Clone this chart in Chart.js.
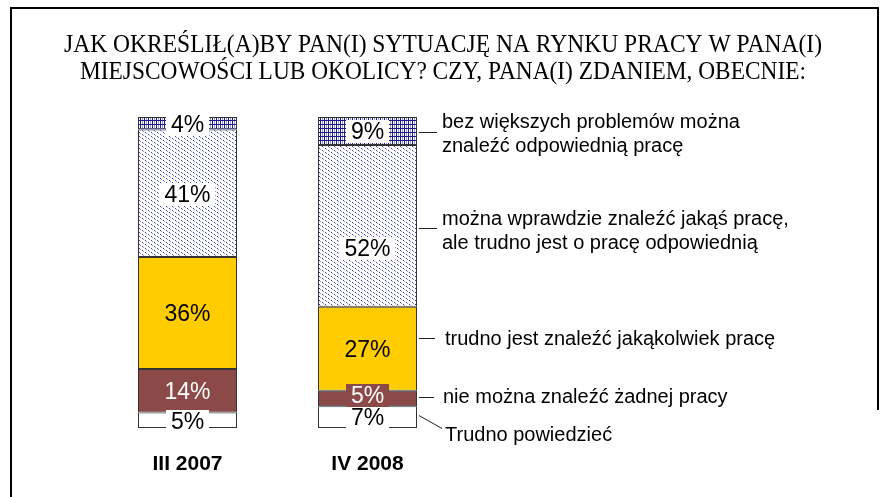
<!DOCTYPE html>
<html>
<head>
<meta charset="utf-8">
<script src="https://cdn.jsdelivr.net/npm/chart.js@4/dist/chart.umd.min.js"></script>
<style>
  html, body { margin: 0; padding: 0; background: #fff; }
  canvas { display: block; }
</style>
</head>
<body>
<canvas id="chart" width="886" height="497" style="width:886px;height:497px;"></canvas>
<script>
'use strict';

// --- data ---
const categories = ['III 2007', 'IV 2008'];
const trudnoPowiedziec = [5, 7];
const nieMozna        = [14, 5];
const trudnoJest      = [36, 27];
const moznaWprawdzie  = [41, 52];
const bezProblemow    = [4, 9];

const titleLines = [
  'JAK OKREŚLIŁ(A)BY PAN(I) SYTUACJĘ NA RYNKU PRACY W PANA(I)',
  'MIEJSCOWOŚCI LUB OKOLICY? CZY, PANA(I) ZDANIEM, OBECNIE:'
];
const legendTrudnoPowiedziec = ['Trudno powiedzieć'];
const legendNieMozna        = ['nie można znaleźć żadnej pracy'];
const legendTrudnoJest      = ['trudno jest znaleźć jakąkolwiek pracę'];
const legendMoznaWprawdzie  = ['można wprawdzie znaleźć jakąś pracę,', 'ale trudno jest o pracę odpowiednią'];
const legendBezProblemow    = ['bez większych problemów można', 'znaleźć odpowiednią pracę'];

// --- patterns ---
function makePattern(w, h, draw) {
  const c = document.createElement('canvas');
  c.width = w; c.height = h;
  const g = c.getContext('2d');
  g.fillStyle = '#fff';
  g.fillRect(0, 0, w, h);
  draw(g);
  return g.createPattern(c, 'repeat');
}

const gridPattern = makePattern(4, 4, g => {
  g.fillStyle = '#9a9ad0';
  g.fillRect(2, 0, 1, 4);
  g.fillStyle = '#1c1c8a';
  g.fillRect(0, 0, 1, 4);
  g.fillRect(0, 0, 4, 1);
});

const dotPattern = makePattern(6, 4, g => {
  g.fillStyle = '#3a3aaa';
  g.fillRect(1, 0, 1, 1);
  g.fillRect(4, 2, 1, 1);
  g.fillStyle = '#9a9ad8';
  g.fillRect(2, 1, 1, 1);
  g.fillRect(5, 3, 1, 1);
});

const segFill   = ['#ffffff', '#8b4a47', '#ffcc00', dotPattern, gridPattern];
const boxFill   = ['#ffffff', '#8b4a47', '#ffcc00', '#ffffff', '#ffffff'];
const textColor = ['#000', '#fff', '#000', '#000', '#000'];
// manually moved labels (dataset,index -> px shift), as in the original
const labelShift = { '3,1': 22 };

// legend annotations: text lines + leader line (from bar edge to text)
const legendItems = [
  { lines: legendBezProblemow,     textX: 442, textY: 122, lead: [[419, 132], [437, 132]] },
  { lines: legendMoznaWprawdzie,   textX: 442, textY: 219, lead: [[419, 228], [437, 228]] },
  { lines: legendTrudnoJest,       textX: 445, textY: 339, lead: [[419, 338], [435, 338]] },
  { lines: legendNieMozna,         textX: 443, textY: 397, lead: [[419, 397], [434, 397]] },
  { lines: legendTrudnoPowiedziec, textX: 445, textY: 435, lead: [[419, 415], [442, 428]] }
];

const decor = {
  id: 'decor',
  beforeDraw(chart) {
    const ctx = chart.ctx;
    ctx.save();
    ctx.fillStyle = '#fff';
    ctx.fillRect(0, 0, chart.width, chart.height);
    ctx.restore();
  },
  afterDatasetsDraw(chart) {
    const ctx = chart.ctx;
    const last = chart.data.datasets.length - 1;
    ctx.save();
    ctx.font = '23px Arial, "Liberation Sans", sans-serif';
    ctx.textAlign = 'center';
    ctx.textBaseline = 'middle';
    chart.data.datasets.forEach((ds, i) => {
      chart.getDatasetMeta(i).data.forEach((bar, j) => {
        const txt = ds.data[j] + '%';
        let cy = (bar.y + bar.base) / 2 + 1;
        // middle segments: keep the label box above the segment's bottom edge
        if (i > 0 && i < last) cy = Math.min(cy, bar.base - 11);
        cy += labelShift[i + ',' + j] || 0;
        const w = ctx.measureText(txt).width + 10;
        ctx.fillStyle = boxFill[i];
        ctx.fillRect(Math.round(bar.x - w / 2), Math.round(cy - 11.5), Math.round(w), 23);
        ctx.fillStyle = textColor[i];
        ctx.fillText(txt, bar.x, cy + 1);
      });
    });
    ctx.restore();
  },
  afterDraw(chart) {
    const ctx = chart.ctx;
    ctx.save();

    // title (condensed serif)
    ctx.fillStyle = '#000';
    ctx.textBaseline = 'middle';
    ctx.textAlign = 'center';
    ctx.font = '25px "Liberation Serif", "Times New Roman", serif';
    const widths = [758, 726];
    titleLines.forEach((t, k) => {
      const m = ctx.measureText(t).width;
      ctx.save();
      ctx.translate(443, 45 + k * 27);
      ctx.scale(widths[k] / m, 1);
      ctx.fillText(t, 0, 0);
      ctx.restore();
    });

    // category labels
    const xs = chart.scales.x;
    ctx.font = 'bold 21px Arial, "Liberation Sans", sans-serif';
    categories.forEach((c, j) => {
      ctx.fillText(c, xs.getPixelForValue(j), 464);
    });

    // legend with leader lines
    ctx.textAlign = 'left';
    ctx.font = '20px Arial, "Liberation Sans", sans-serif';
    ctx.strokeStyle = '#222';
    ctx.lineWidth = 1;
    legendItems.forEach(it => {
      ctx.beginPath();
      ctx.moveTo(it.lead[0][0], it.lead[0][1] + 0.5);
      ctx.lineTo(it.lead[1][0], it.lead[1][1] + 0.5);
      ctx.stroke();
      it.lines.forEach((ln, k) => ctx.fillText(ln, it.textX, it.textY + k * 24));
    });

    // frame
    ctx.strokeStyle = '#000';
    ctx.lineWidth = 2;
    ctx.beginPath();
    ctx.moveTo(11, 497);
    ctx.lineTo(11, 8);
    ctx.lineTo(878, 8);
    ctx.lineTo(878, 410);
    ctx.stroke();

    ctx.restore();
  }
};

const series = [trudnoPowiedziec, nieMozna, trudnoJest, moznaWprawdzie, bezProblemow];

new Chart(document.getElementById('chart'), {
  type: 'bar',
  data: {
    labels: categories,
    datasets: series.map((d, i) => ({
      data: d,
      backgroundColor: segFill[i],
      borderColor: '#333',
      borderWidth: 1,
      borderSkipped: false,
      barPercentage: 0.55,
      categoryPercentage: 1
    }))
  },
  options: {
    responsive: false,
    animation: false,
    devicePixelRatio: 1,
    layout: { padding: { left: 97.5, right: 428.5, top: 117, bottom: 69 } },
    scales: {
      x: { stacked: true, display: false },
      y: { stacked: true, display: false, min: 0, max: 100 }
    },
    plugins: { legend: { display: false }, tooltip: { enabled: false } }
  },
  plugins: [decor]
});
</script>
</body>
</html>
